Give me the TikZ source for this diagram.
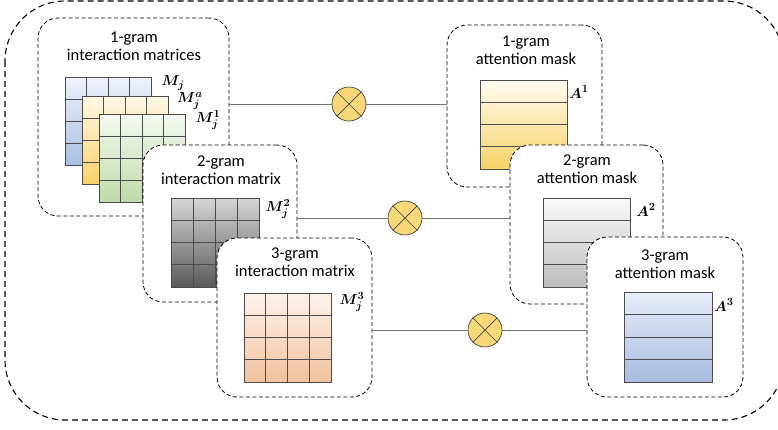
\documentclass[tikz,border=0pt]{standalone}
\usepackage{amsmath,amssymb}
\usepackage{fontspec}
\setmainfont{Carlito}
\usetikzlibrary{positioning}

\definecolor{blueT}{HTML}{EEF2FA}
\definecolor{blueB}{HTML}{A9BFE3}
\definecolor{yelT}{HTML}{FFF8E6}
\definecolor{yelB}{HTML}{F9D26A}
\definecolor{grnT}{HTML}{F4F9F0}
\definecolor{grnB}{HTML}{BEDBA8}
\definecolor{grayT}{HTML}{D6D6D6}
\definecolor{grayB}{HTML}{595959}
\definecolor{orgT}{HTML}{FDF3EC}
\definecolor{orgB}{HTML}{F2C29E}
\definecolor{maskyT}{HTML}{FFFCF2}
\definecolor{maskyB}{HTML}{F7D266}
\definecolor{maskgT}{HTML}{FAFAFA}
\definecolor{maskgB}{HTML}{BDBDBD}
\definecolor{maskbT}{HTML}{E8EDF8}
\definecolor{maskbB}{HTML}{A7BCE0}
\definecolor{multyellow}{HTML}{F9D878}

\begin{document}
\begin{tikzpicture}[x=1pt,y=-1pt,
    box/.style={draw, dash pattern=on 4pt off 2.5pt, rounded corners=20pt,
      fill=white, line width=0.8pt, inner sep=0pt},
    title/.style={align=center, font=\fontsize{16.5}{18}\selectfont, inner sep=0pt},
    lab/.style={font=\fontsize{15}{17}\selectfont, inner sep=0pt},
    cell/.style={draw=black!70, line width=0.7pt},
    mult/.style={circle, draw=black!75, fill=multyellow, minimum size=34pt,
      inner sep=0pt, line width=0.7pt},
    conn/.style={draw=black!55, line width=0.8pt}]
  \useasboundingbox (0,0) rectangle (778,429);

  % outer frame
  \draw[dash pattern=on 6pt off 4pt, line width=1.1pt, rounded corners=60pt]
    (5,1) rectangle (784,420);

  % 1-gram interaction matrices
  \node[box, minimum width=191pt, minimum height=198pt] (b1) at (133.5,117) {};
  \node[title] (t1) at (134,46) {1-gram\\interaction matrices};
  \foreach \x/\y/\ct/\cb in {65/77/blueT/blueB, 82/96/yelT/yelB, 99/114/grnT/grnB} {
    \shade[top color=\ct, bottom color=\cb] (\x,\y) rectangle ++(86,88);
    \foreach \i in {1,2,3} {
      \draw[cell] (\x+\i*21.5,\y) -- ++(0,88);
      \draw[cell] (\x,\y+\i*22) -- ++(86,0);
    }
    \draw[cell] (\x,\y) rectangle ++(86,88);
  }
  \node[lab] (mj) at (173,83) {$\boldsymbol{M_j}$};
  \node[lab] (mja) at (190,101) {$\boldsymbol{M_j^a}$};
  \node[lab] (mj1) at (208,120) {$\boldsymbol{M_j^1}$};

  % 2-gram interaction matrix
  \node[box, minimum width=154pt, minimum height=157pt] (b2) at (220,223.5) {};
  \node[title] (t2) at (221,170) {2-gram\\interaction matrix};
  \shade[top color=grayT, bottom color=grayB] (171,198) rectangle ++(88,89);
  \foreach \i in {1,2,3} {
    \draw[cell] (171+\i*22,198) -- ++(0,89);
    \draw[cell] (171,198+\i*22.25) -- ++(88,0);
  }
  \draw[cell] (171,198) rectangle ++(88,89);
  \node[lab] (mj2) at (278,209) {$\boldsymbol{M_j^2}$};

  % 3-gram interaction matrix
  \node[box, minimum width=155pt, minimum height=159pt] (b3) at (294.5,317.5) {};
  \node[title] (t3) at (295,262) {3-gram\\interaction matrix};
  \shade[top color=orgT, bottom color=orgB] (244,293) rectangle ++(87,89);
  \foreach \i in {1,2,3} {
    \draw[cell] (244+\i*21.75,293) -- ++(0,89);
    \draw[cell] (244,293+\i*22.25) -- ++(87,0);
  }
  \draw[cell] (244,293) rectangle ++(87,89);
  \node[lab] (mj3) at (352,302) {$\boldsymbol{M_j^3}$};

  % attention masks
  \node[box, minimum width=155pt, minimum height=162pt] (a1) at (524.5,106) {};
  \node[title] (s1) at (526,50) {1-gram\\attention mask};
  \shade[top color=maskyT, bottom color=maskyB] (480,80) rectangle ++(87,89);
  \foreach \i in {1,2,3}
    \draw[cell] (480,80+\i*22.25) -- ++(87,0);
  \draw[cell] (480,80) rectangle ++(87,89);
  \node[lab] (am1) at (579,92) {$\boldsymbol{A^1}$};

  \node[box, minimum width=153pt, minimum height=159pt] (a2) at (586.5,224.5) {};
  \node[title] (s2) at (587,169) {2-gram\\attention mask};
  \shade[top color=maskgT, bottom color=maskgB] (543,198) rectangle ++(87,89);
  \foreach \i in {1,2,3}
    \draw[cell] (543,198+\i*22.25) -- ++(87,0);
  \draw[cell] (543,198) rectangle ++(87,89);
  \node[lab] (am2) at (646,210) {$\boldsymbol{A^2}$};

  \node[box, minimum width=156pt, minimum height=160pt] (a3) at (665,317) {};
  \node[title] (s3) at (665,264) {3-gram\\attention mask};
  \shade[top color=maskbT, bottom color=maskbB] (624,292) rectangle ++(88,90);
  \foreach \i in {1,2,3}
    \draw[cell] (624,292+\i*22.5) -- ++(88,0);
  \draw[cell] (624,292) rectangle ++(88,90);
  \node[lab] (am3) at (724,305) {$\boldsymbol{A^3}$};

  % products
  \node[mult] (x1) at (349,104) {};
  \node[mult] (x2) at (405,218) {};
  \node[mult] (x3) at (485,330) {};
  \foreach \p/\l/\r in {x1/b1/a1, x2/b2/a2, x3/b3/a3} {
    \draw[conn] (\l.east |- \p) -- (\p.west);
    \draw[conn] (\p.east) -- (\r.west |- \p);
    \draw[black!75, line width=0.7pt] (\p.north east) -- (\p.south west)
      (\p.north west) -- (\p.south east);
  }
\end{tikzpicture}
\end{document}
